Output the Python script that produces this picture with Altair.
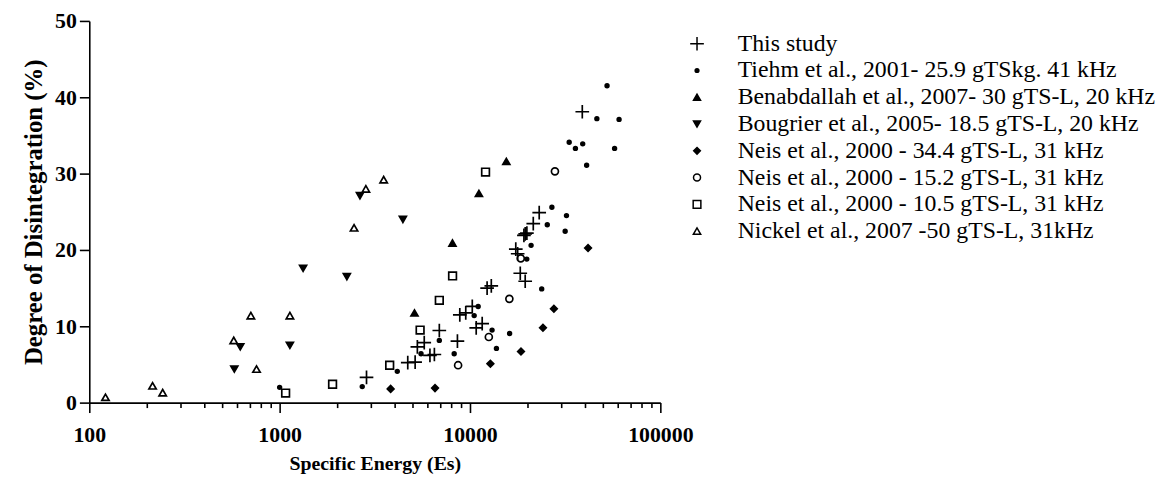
import altair as alt
import pandas as pd

series = [
    "This study",
    "Tiehm et al., 2001- 25.9 gTSkg. 41 kHz",
    "Benabdallah et al., 2007- 30 gTS-L, 20 kHz",
    "Bougrier et al., 2005- 18.5 gTS-L, 20 kHz",
    "Neis et al., 2000 - 34.4 gTS-L, 31 kHz",
    "Neis et al., 2000 - 15.2 gTS-L, 31 kHz",
    "Neis et al., 2000 - 10.5 gTS-L, 31 kHz",
    "Nickel et al., 2007 -50 gTS-L, 31kHz",
]

this_x = [2860, 4710, 5150, 5290, 5750, 6160, 6500, 6900, 8590, 8840, 9500, 10280,
          10780, 11590, 12300, 12940, 17400, 17800, 18370, 19500, 19200, 19900,
          19500, 21500, 23100, 38900]
this_y = [3.3, 5.25, 5.3, 7.3, 7.85, 6.2, 6.3, 9.45, 8.05, 11.5, 11.75, 12.6,
          9.8, 10.35, 15.0, 15.3, 20.1, 19.5, 16.95, 15.9, 21.9, 22.2,
          22.1, 23.45, 24.9, 38.1]

tiehm_x = [1000, 2716, 4150, 5530, 6900, 8260, 10520, 11040, 13060, 13770, 16150,
           19880, 20940, 23810, 25470, 26930, 31620, 32130, 33200, 35800, 39100,
           41000, 46400, 52480, 57500, 60700]
tiehm_y = [2.0, 2.1, 4.1, 6.4, 8.15, 6.4, 11.4, 12.6, 9.5, 7.1, 9.05,
           18.8, 20.6, 14.9, 23.3, 25.6, 22.45, 24.5, 34.1, 33.3, 33.9,
           31.1, 37.2, 41.5, 33.3, 37.1]

benab_x = [5110, 8090, 11140, 15520]
benab_y = [11.75, 20.9, 27.4, 31.6]

bougr_x = [578, 621, 1132, 1328, 2254, 2642, 4440]
bougr_y = [4.4, 7.3, 7.5, 17.6, 16.5, 27.1, 24.0]

neis34_x = [3830, 6550, 12800, 18530, 24170, 27590, 41700]
neis34_y = [1.8, 1.9, 5.1, 6.7, 9.8, 12.3, 20.25]

neis15_x = [8660, 12560, 16100, 18480, 27940]
neis15_y = [4.9, 8.6, 13.6, 18.9, 30.3]

neis10_x = [1075, 1897, 3785, 5470, 6900, 8100, 12070]
neis10_y = [1.25, 2.4, 4.9, 9.5, 13.4, 16.6, 30.2]

nickel_x = [121.6, 215, 243, 574, 706, 756, 1132, 2460, 2838, 3520]
nickel_y = [0.7, 2.2, 1.3, 8.15, 11.4, 4.4, 11.4, 22.9, 28.0, 29.2]

x_lists = [this_x, tiehm_x, benab_x, bougr_x, neis34_x, neis15_x, neis10_x, nickel_x]
y_lists = [this_y, tiehm_y, benab_y, bougr_y, neis34_y, neis15_y, neis10_y, nickel_y]

rows = []
for s, xs, ys in zip(series, x_lists, y_lists):
    for xv, yv in zip(xs, ys):
        rows.append({"series": s, "es": xv, "dd": yv})
df = pd.DataFrame(rows)

shapes = ["M-1,0H1M0,-1V1", "circle", "triangle-up", "triangle-down",
          "diamond", "circle", "square", "triangle-up"]
fills = ["transparent", "black", "black", "black", "black",
         "transparent", "transparent", "transparent"]
sizes = [190, 14, 50, 50, 45, 50, 60, 55]

major = [100, 1000, 10000, 100000]
minor = [m * d for d in [100, 1000, 10000] for m in range(2, 10)]
tick_values = sorted(major + minor)

serif = "Liberation Serif"


def legend():
    return alt.Legend(title=None, orient="none", legendX=601, legendY=11,
                      labelFont=serif, labelFontSize=24, labelColor="black",
                      labelOffset=29, rowPadding=3, padding=0, labelLimit=600)


chart = alt.Chart(df).mark_point(
    filled=True, stroke="black", strokeWidth=1.7, opacity=1
).encode(
    x=alt.X(
        "es:Q",
        scale=alt.Scale(type="log", domain=[100, 100000], nice=False),
        axis=alt.Axis(
            title="Specific Energy (Es)",
            values=tick_values,
            labelExpr="indexof([100,1000,10000,100000], datum.value) >= 0 ? format(datum.value, 'd') : ''",
            tickSize={"condition": {"test": "indexof([100,1000,10000,100000], datum.value) >= 0", "value": 10}, "value": 5},
            labelFont=serif, labelFontSize=22, labelFontWeight="bold",
            titleFont=serif, titleFontSize=20, titleFontWeight="bold",
            labelPadding=12, titlePadding=8, labelFlush=False,
            labelOverlap=False, grid=False,
        ),
    ),
    y=alt.Y(
        "dd:Q",
        scale=alt.Scale(domain=[0, 50], nice=False),
        axis=alt.Axis(
            title="Degree of Disintegration (%)",
            values=[0, 10, 20, 30, 40, 50],
            tickSize=10,
            labelFont=serif, labelFontSize=22, labelFontWeight="bold",
            titleFont=serif, titleFontSize=25, titleFontWeight="bold",
            labelPadding=3, titlePadding=8, labelFlush=False, grid=False,
        ),
    ),
    shape=alt.Shape("series:N", scale=alt.Scale(domain=series, range=shapes), legend=legend()),
    fill=alt.Fill("series:N", scale=alt.Scale(domain=series, range=fills), legend=legend()),
    size=alt.Size("series:N", scale=alt.Scale(type="ordinal", domain=series, range=sizes), legend=legend()),
).properties(
    width=576, height=385,
    padding={"left": 14, "top": 0, "right": 5, "bottom": 5},
).configure_view(
    stroke=None
).configure_axis(
    domainColor="black", domainWidth=1.6, tickColor="black", tickWidth=1.6,
    labelColor="black", titleColor="black",
)

chart.save("out.html", embed_options={"renderer": "svg", "actions": False})
